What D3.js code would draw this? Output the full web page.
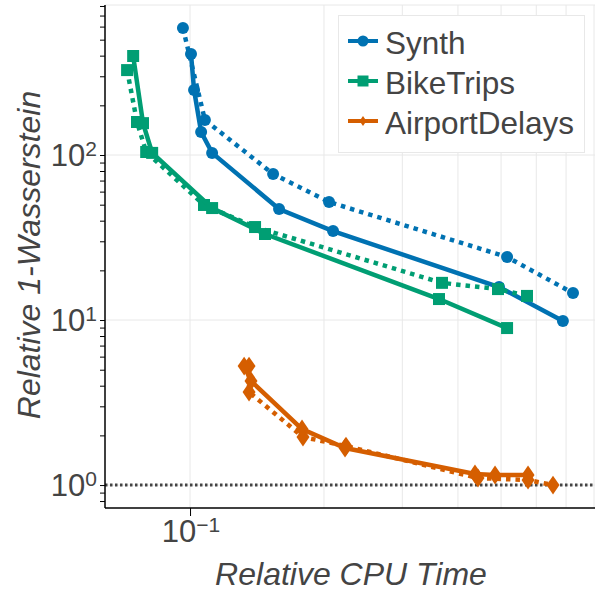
<!DOCTYPE html>
<html>
<head>
<meta charset="utf-8">
<script src="https://cdn.jsdelivr.net/npm/d3@7"></script>
<style>
  body { margin: 0; background: #fff; }
  text { font-family: "Liberation Sans", Arial, sans-serif; fill: #444; }
</style>
</head>
<body>
<svg id="chart" width="600" height="600"></svg>
<script>
// series values (x = relative CPU time, y = relative 1-Wasserstein)
const synthSolidX = [0.1005, 0.1021, 0.1059, 0.1121, 0.1585, 0.2096, 0.4948, 0.6886];
const synthSolidY = [409, 248, 138, 103, 47.1, 34.6, 15.85, 9.86];
const synthDotX = [0.0964, 0.108, 0.1537, 0.2053, 0.5158, 0.7255];
const synthDotY = [588, 163, 76.7, 51.9, 24.1, 14.57];

const bikeSolidX = [0.0745, 0.0784, 0.0822, 0.1121, 0.1474, 0.3627, 0.5158];
const bikeSolidY = [398, 156, 103, 47.7, 33.2, 13.4, 8.94];
const bikeDotX = [0.0722, 0.076, 0.0797, 0.1075, 0.14, 0.3683, 0.4921, 0.5719];
const bikeDotY = [327, 158.5, 104.3, 49.8, 36.6, 16.8, 15.4, 14.0];

const airSolidX = [0.1323, 0.1371, 0.1785, 0.223, 0.4369, 0.4847, 0.5749];
const airSolidY = [5.26, 4.27, 2.185, 1.676, 1.166, 1.15, 1.15];
const airDotX = [0.1357, 0.1357, 0.1794, 0.2241, 0.4437, 0.5749, 0.6542];
const airDotY = [5.26, 3.66, 1.954, 1.723, 1.103, 1.072, 1.0];

const seriesNames = ["Synth", "BikeTrips", "AirportDelays"];
const seriesColors = ["#0072B2", "#009E73", "#D55E00"];
const seriesSymbols = ["circle", "square", "diamond"];

const xTicks = [0.1];
const xTickExp = ["\u22121"];
const xGrid = [0.1, 0.2, 0.3, 0.4, 0.5, 0.6, 0.7];
const yMajor = [1, 10, 100];
const yTickExp = ["0", "1", "2"];

const svg = d3.select("#chart");
const mLeft = 105, mRight = 595, mTop = 5, mBottom = 508;

const x = d3.scaleLog().domain([0.0644, 0.813]).range([mLeft, mRight]);
const y = d3.scaleLog().domain([0.726, 811]).range([mBottom, mTop]);

// minor y ticks 2..9 in every decade that fits
const yMinor = [];
[0.1, 1, 10, 100].forEach(dec => {
  for (let k = 1; k < 10; k++) {
    const v = dec * k;
    if (v >= y.domain()[0] && v <= y.domain()[1]) yMinor.push(v);
  }
});

// frame and gridlines
const grid = svg.append("g");
grid.selectAll(".gx").data(xGrid).enter().append("line")
  .attr("x1", d => x(d)).attr("x2", d => x(d))
  .attr("y1", mTop).attr("y2", mBottom)
  .attr("stroke", "#e8e8e8").attr("stroke-width", 1);
grid.selectAll(".gy").data(yMajor).enter().append("line")
  .attr("x1", mLeft).attr("x2", mRight)
  .attr("y1", d => y(d)).attr("y2", d => y(d))
  .attr("stroke", "#e8e8e8").attr("stroke-width", 1);
grid.append("line")
  .attr("x1", mLeft).attr("x2", mRight).attr("y1", mTop).attr("y2", mTop)
  .attr("stroke", "#e8e8e8");
grid.append("line")
  .attr("x1", mRight - 1).attr("x2", mRight - 1).attr("y1", mTop).attr("y2", mBottom)
  .attr("stroke", "#e8e8e8");

// reference line at 1
svg.append("line")
  .attr("x1", mLeft).attr("x2", mRight)
  .attr("y1", y(1)).attr("y2", y(1))
  .attr("stroke", "#444").attr("stroke-width", 3)
  .attr("stroke-dasharray", "2.5,2.5");

// axes
const yAxis = svg.append("g")
  .attr("transform", `translate(${mLeft},0)`)
  .call(d3.axisLeft(y).tickValues(yMinor).tickSize(5).tickFormat(""));
yAxis.select(".domain").attr("stroke", "#000").attr("stroke-width", 1.5)
  .attr("d", `M0,${mTop}V${mBottom}`);
yAxis.selectAll(".tick line").attr("stroke", "#000").attr("stroke-width", 1);

const xAxis = svg.append("g")
  .attr("transform", `translate(0,${mBottom})`)
  .call(d3.axisBottom(x).tickValues(xTicks).tickSize(8).tickFormat(""));
xAxis.select(".domain").attr("stroke", "#000").attr("stroke-width", 1.5)
  .attr("d", `M${mLeft},0H${mRight}`);
xAxis.selectAll(".tick line").attr("stroke", "#000").attr("stroke-width", 1);

// tick labels with superscripts
yMajor.forEach((v, i) => {
  const t = svg.append("text")
    .attr("x", 97).attr("y", y(v) + 11)
    .attr("text-anchor", "end")
    .style("font-size", "31px");
  t.append("tspan").text("10");
  t.append("tspan").attr("dy", -10).style("font-size", "21px").text(yTickExp[i]);
});
xTicks.forEach((v, i) => {
  const t = svg.append("text")
    .attr("x", x(v) + 1).attr("y", 542)
    .attr("text-anchor", "middle")
    .style("font-size", "31px");
  t.append("tspan").text("10");
  t.append("tspan").attr("dy", -10).style("font-size", "21px").text(xTickExp[i]);
});

// axis titles
svg.append("text")
  .attr("x", 351).attr("y", 585)
  .attr("text-anchor", "middle")
  .style("font-size", "32px").style("font-style", "italic")
  .text("Relative CPU Time");
svg.append("text")
  .attr("transform", "translate(40,255) rotate(-90)")
  .attr("text-anchor", "middle")
  .style("font-size", "32px").style("font-style", "italic")
  .text("Relative 1-Wasserstein");

// symbols
const symbolPath = (kind, s) => {
  if (kind === "circle") return d3.symbol(d3.symbolCircle, Math.PI * s * s)();
  if (kind === "square") return d3.symbol(d3.symbolSquare, (2 * s) * (2 * s))();
  return `M0,${-s * 1.45}L${s},0L0,${s * 1.45}L${-s},0Z`;
};

const line = d3.line().x(d => x(d[0])).y(d => y(d[1]));

const traces = [
  { xs: synthDotX, ys: synthDotY, s: 0, dash: true },
  { xs: synthSolidX, ys: synthSolidY, s: 0, dash: false },
  { xs: bikeDotX, ys: bikeDotY, s: 1, dash: true },
  { xs: bikeSolidX, ys: bikeSolidY, s: 1, dash: false },
  { xs: airDotX, ys: airDotY, s: 2, dash: true },
  { xs: airSolidX, ys: airSolidY, s: 2, dash: false },
];

const plot = svg.append("g");
traces.forEach(tr => {
  const pts = tr.xs.map((v, i) => [v, tr.ys[i]]);
  const color = seriesColors[tr.s];
  plot.append("path")
    .datum(pts)
    .attr("d", line)
    .attr("fill", "none")
    .attr("stroke", color)
    .attr("stroke-width", 4.5)
    .attr("stroke-dasharray", tr.dash ? "4.5,5" : null);
  plot.selectAll(null).data(pts).enter().append("path")
    .attr("transform", d => `translate(${x(d[0])},${y(d[1])})`)
    .attr("d", symbolPath(seriesSymbols[tr.s], tr.s === 2 ? 6.5 : 6))
    .attr("fill", color);
});

// legend
const legend = svg.append("g");
legend.append("rect")
  .attr("x", 338.5).attr("y", 15.5).attr("width", 246).attr("height", 137)
  .attr("fill", "#fff").attr("stroke", "#e8e8e8").attr("stroke-width", 1);
seriesNames.forEach((name, i) => {
  const cy = 41 + i * 40;
  legend.append("line")
    .attr("x1", 348).attr("x2", 378).attr("y1", cy).attr("y2", cy)
    .attr("stroke", seriesColors[i]).attr("stroke-width", 4);
  legend.append("path")
    .attr("transform", `translate(363,${cy})`)
    .attr("d", symbolPath(seriesSymbols[i], i === 2 ? 3.5 : 5.5))
    .attr("fill", seriesColors[i]);
  legend.append("text")
    .attr("x", 385).attr("y", cy + 13)
    .style("font-size", "31.5px")
    .text(name);
});
</script>
</body>
</html>
